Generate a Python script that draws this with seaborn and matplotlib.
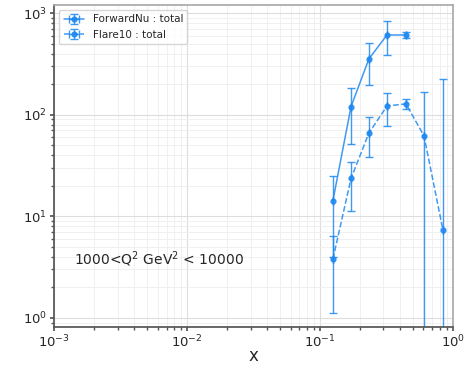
import matplotlib
matplotlib.use("Agg")
import matplotlib.pyplot as plt
import seaborn as sns
import numpy as np
import pandas as pd

# Data
x_fwd = [0.125, 0.171, 0.233, 0.319, 0.443]
y_fwd = [14.3, 120, 355, 610, 610]
lo_fwd = [4.0, 52, 196, 385, 570]
hi_fwd = [24.7, 183, 508, 835, 650]

x_flare = [0.125, 0.171, 0.233, 0.319, 0.443, 0.605, 0.841]
y_flare = [3.8, 23.6, 66, 122, 128, 62, 7.3]
lo_flare = [1.12, 11.4, 38.6, 78, 114, 0.01, 0.01]
hi_flare = [6.4, 34.6, 95, 165, 144, 168, 225]

label_fwd = "ForwardNu : total"
label_flare = "Flare10 : total"
annot = "1000<Q$^2$ GeV$^2$ < 10000"

sns.set_theme(style="whitegrid")
plt.rcParams['font.family'] = ['DejaVu Sans']

fig = plt.figure(figsize=(4.67, 3.66), dpi=100)
ax = fig.add_axes([0.116, 0.106, 0.854, 0.880])

color = "#1E88F0"
df_fwd = pd.DataFrame({"x": x_fwd, "y": y_fwd})
df_flare = pd.DataFrame({"x": x_flare, "y": y_flare})

def draw(df, lo, hi, ls, label):
    y = np.array(df["y"])
    yerr = np.vstack([y - np.array(lo), np.array(hi) - y])
    ax.errorbar(df["x"], df["y"], yerr=yerr, xerr=np.zeros(len(y)),
                fmt="o", ls=ls, color=color, markersize=3.5, lw=1.1,
                elinewidth=1.0, capsize=3, alpha=0.85, label=label)

draw(df_fwd, lo_fwd, hi_fwd, "-", label_fwd)
draw(df_flare, lo_flare, hi_flare, "--", label_flare)

ax.set_xscale("log")
ax.set_yscale("log")
ax.set_xlim(1e-3, 1)
ax.set_ylim(0.81, 1200)
ax.grid(True, which="major", color="#dddddd", lw=0.8)
ax.grid(True, which="minor", color="#eeeeee", lw=0.6)
ax.set_axisbelow(True)
for s in ["left", "bottom"]:
    ax.spines[s].set_color("#555555")
for s in ["top", "right"]:
    ax.spines[s].set_color("#aaaaaa")
ax.tick_params(axis="both", which="major", labelsize=9.5, length=3, pad=2,
               left=True, bottom=True, color="#555555")
ax.tick_params(axis="both", which="minor", length=2, left=True, bottom=True, color="#555555")
ax.set_xlabel("x", fontsize=12, va="center")
ax.xaxis.set_label_coords(0.5, -0.088)
ax.text(0.00142, 3.8, annot, fontsize=10, va="center", ha="left")
ax.legend(loc="upper left", fontsize=7.5, frameon=True, framealpha=0.8)

fig.savefig("out.png", dpi=100)
